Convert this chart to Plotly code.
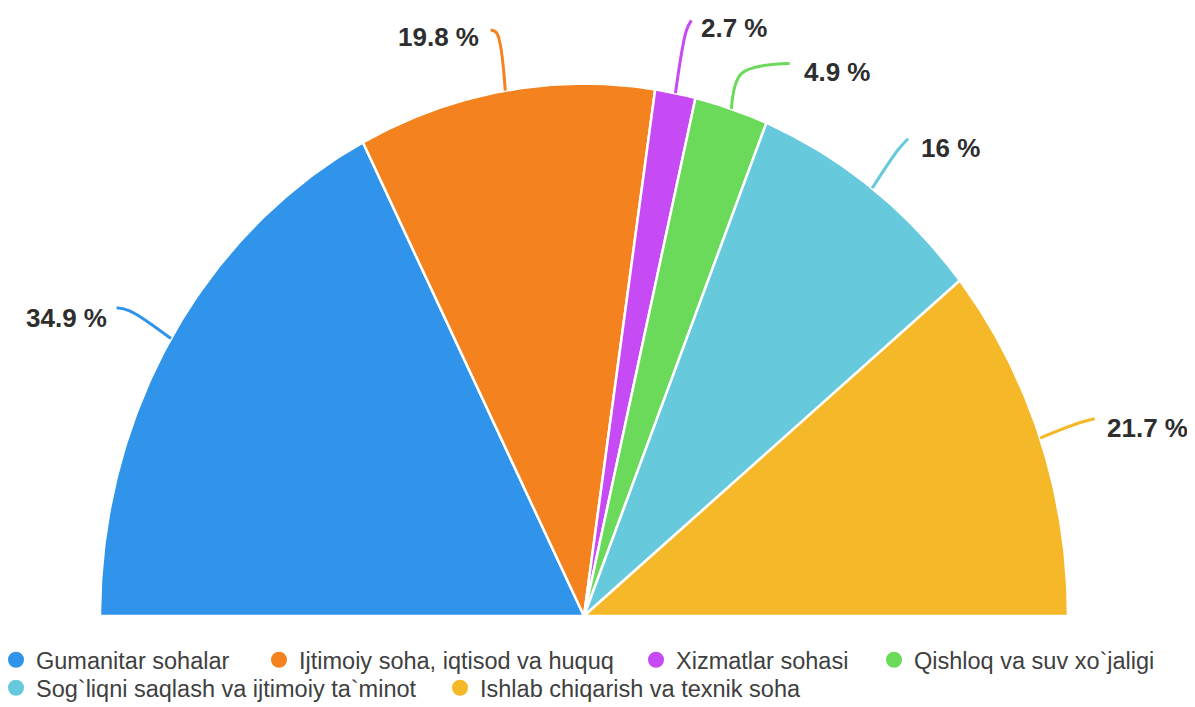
import numpy as np
import plotly.graph_objects as go

# ---------------- data ----------------
categories = [
    "Gumanitar sohalar",
    "Ijtimoiy soha, iqtisod va huquq",
    "Xizmatlar sohasi",
    "Qishloq va suv xo`jaligi",
    "Sog`liqni saqlash va ijtimoiy ta`minot",
    "Ishlab chiqarish va texnik soha",
]
values = [34.9, 19.8, 2.7, 4.9, 16, 21.7]
label_texts = ["34.9 %", "19.8 %", "2.7 %", "4.9 %", "16 %", "21.7 %"]

# ---------------- style / layout constants ----------------
colors = ["#2F94EA", "#F4821F", "#C64BF5", "#6BD95A", "#66C9DC", "#F5B829"]
RY = 1.1            # vertical stretch of the half pie
PX = 484.0          # pixels per axis unit
# connector layout: radial extension, end offset (px, x right / y up)
conn_ext = [1.10, 1.11, 1.12, 1.07, 1.09, 1.08]
conn_dx = [-13, -6, 5, 48, 10, 18]
conn_dy = [3, 3, 10, 10, 11, 5]
lab_anchor = ["right", "right", "left", "left", "left", "left"]
lab_xshift = [-8, -10, 8, 12, 11, 10]
lab_yshift = [-10, -7, -8, -9, -9, -9]
# legend entry marker centres (px, page coords) - flow layout in two rows
leg_mx = [16, 279, 656, 894, 16, 460]
leg_my = [660, 660, 660, 660, 688, 688]

FONT = "Liberation Sans, Arial, sans-serif"
OFF = 8                 # page body margin
W, H = 1195 - OFF, 707 - OFF
cx, cy = 584 - OFF, 616 - OFF
B = 67                  # bottom margin (legend area)
PH = H - B

fig = go.Figure()

total = float(sum(values))
cum = 0.0
for i, (cat, v) in enumerate(zip(categories, values)):
    a0 = np.pi * (1 - cum / total)
    a1 = np.pi * (1 - (cum + v) / total)
    th = np.linspace(a0, a1, 120)
    xs = np.concatenate([[0], np.cos(th), [0]])
    ys = np.concatenate([[0], RY * np.sin(th), [0]])
    fig.add_trace(go.Scatter(
        x=xs, y=ys, mode="lines", fill="toself", fillcolor=colors[i],
        line=dict(color="white", width=2.5), showlegend=False, hoverinfo="skip",
    ))
    # connector
    am = (a0 + a1) / 2
    x0, y0 = np.cos(am), RY * np.sin(am)
    x1, y1 = conn_ext[i] * x0, conn_ext[i] * y0
    x2, y2 = x1 + conn_dx[i] / PX, y1 + conn_dy[i] / PX
    fig.add_trace(go.Scatter(
        x=[x0, x1, x2], y=[y0, y1, y2], mode="lines",
        line=dict(color=colors[i], width=3, shape="spline", smoothing=1.0),
        showlegend=False, hoverinfo="skip",
    ))
    fig.add_annotation(
        x=x2, y=y2, xref="x", yref="y", text=label_texts[i], showarrow=False,
        xanchor=lab_anchor[i], yanchor="middle",
        xshift=lab_xshift[i], yshift=lab_yshift[i],
        font=dict(family=FONT, size=26, color="#2E2E2E", weight="bold"),
    )
    cum += v

# legend entries (circle markers), one positioned legend per entry
legends = {}
for i, cat in enumerate(categories):
    key = "legend" if i == 0 else f"legend{i + 1}"
    fig.add_trace(go.Scatter(
        x=[None], y=[None], mode="markers", name=cat, legend=key,
        marker=dict(color=colors[i], size=16, symbol="circle"),
        showlegend=True, hoverinfo="skip",
    ))
    legends[key] = dict(
        orientation="h", xanchor="left", yanchor="middle",
        x=(leg_mx[i] - OFF - 20) / W,
        y=(PH - (leg_my[i] - OFF)) / PH,
        font=dict(family=FONT, size=23.5, color="#404040"),
        itemsizing="trace", bgcolor="rgba(0,0,0,0)",
    )

fig.update_layout(
    width=W, height=H,
    margin=dict(l=0, r=0, t=0, b=B, autoexpand=False),
    paper_bgcolor="white", plot_bgcolor="white",
    xaxis=dict(range=[-cx / PX, (W - cx) / PX], visible=False, fixedrange=True),
    yaxis=dict(range=[-(PH - cy) / PX, cy / PX], visible=False, fixedrange=True),
    showlegend=True,
    hovermode=False,
    **legends,
)

fig.write_html("out.html")
